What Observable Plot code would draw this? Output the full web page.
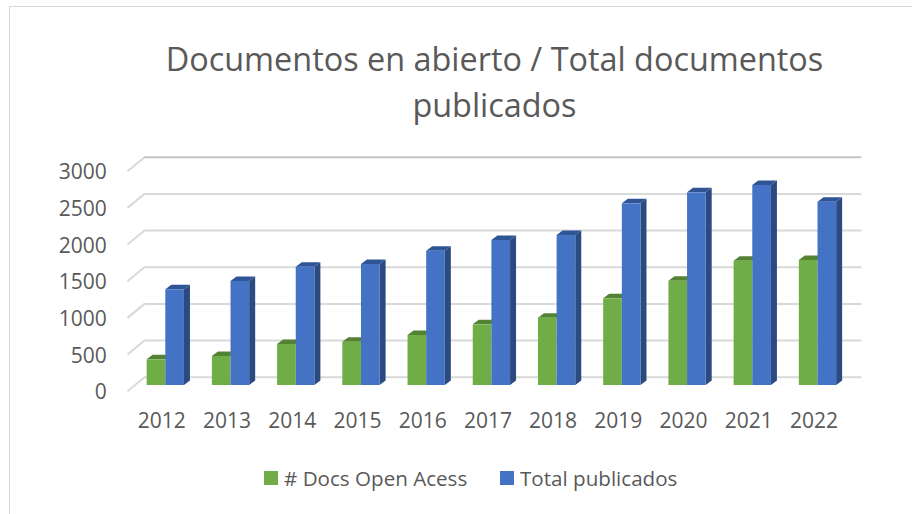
<!DOCTYPE html>
<html>
<head>
<meta charset="utf-8">
<script src="https://cdn.jsdelivr.net/npm/d3@7"></script>
<script src="https://cdn.jsdelivr.net/npm/@observablehq/plot@0.6"></script>
<style>
  html, body { margin: 0; padding: 0; background: #fff; }
  #page { position: relative; width: 912px; height: 514px; overflow: hidden; font-family: "Open Sans", sans-serif; color: #595959; }
  #frame { position: absolute; left: 9px; top: 6px; width: 903px; height: 520px; border: 1.5px solid #d9d9d9; border-right: none; box-sizing: border-box; }
  #title { position: absolute; left: 0; top: 35px; width: 989px; text-align: center; font-size: 32.4px; line-height: 46px; font-weight: 400; }
  #chart { position: absolute; left: 0; top: 140px; }
  #chart svg { display: block; }
  .lg { position: absolute; top: 467px; font-size: 20.6px; line-height: 22px; white-space: nowrap; }
  .sw { position: absolute; top: 471px; width: 14px; height: 14px; }
</style>
</head>
<body>
<div id="page">
  <div id="frame"></div>
  <div id="title">Documentos en abierto / Total documentos<br>publicados</div>
  <div id="chart"></div>
  <div class="sw" style="left:264px;background:#70ad47"></div>
  <div class="lg" style="left:284px"># Docs Open Acess</div>
  <div class="sw" style="left:500px;background:#4472c4"></div>
  <div class="lg" style="left:520px">Total publicados</div>
</div>
<script>
const years = [2012, 2013, 2014, 2015, 2016, 2017, 2018, 2019, 2020, 2021, 2022];
const openAccess = [350, 395, 559, 590, 682, 827, 918, 1182, 1422, 1695, 1705];
const totalDocs = [1305, 1418, 1613, 1650, 1831, 1977, 2045, 2477, 2627, 2727, 2500];
const yTicks = [0, 500, 1000, 1500, 2000, 2500, 3000];

const barHalf = 0.286;
const xStart = 2011.5, xEnd = 2022.5;
const greenRows = years.map((y, i) => ({x1: y - barHalf, x2: y, v: openAccess[i]}));
const blueRows = years.map((y, i) => ({x1: y, x2: y + barHalf, v: totalDocs[i]}));

// Draws a parallelogram derived from a bar's scaled rectangle (oblique 3D faces)
function face(rows, kind, fill) {
  const ddx = 6, ddy = 4.5;
  return Plot.rect(rows, {
    x1: "x1", x2: "x2", y1: 0, y2: "v", fill,
    render(index, scales, values) {
      const {x1: X1, x2: X2, y1: Y1, y2: Y2} = values;
      const g = d3.create("svg:g").attr("fill", fill);
      for (const i of index) {
        const l = X1[i], r = X2[i], b = Y1[i], t = Y2[i];
        const pts = kind === "top"
          ? [[l, t], [l + ddx, t - ddy], [r + ddx, t - ddy], [r, t]]
          : [[r, t], [r + ddx, t - ddy], [r + ddx, b - ddy], [r, b]];
        g.append("polygon").attr("points", pts.join(" "));
      }
      return g.node();
    }
  });
}

const backX = xStart + 11.3 / 65.2, frontX = xStart - 5.7 / 65.2;
const backDv = 113, frontDv = -78;

const chart = Plot.plot({
  width: 912, height: 300,
  marginLeft: 132.7, marginRight: 61.9, marginTop: 25, marginBottom: 55,
  style: {fontFamily: '"Open Sans", sans-serif', color: "#595959", background: "transparent", overflow: "visible"},
  x: {type: "linear", domain: [xStart, xEnd], axis: null},
  y: {domain: [0, 3000], axis: null},
  marks: [
    Plot.ruleY(yTicks, {y: d => d + backDv, x1: backX, x2: xEnd + 11.3 / 65.2, stroke: d => d === 3000 ? "#c4c4c4" : "#d9d9d9", strokeWidth: 2}),
    Plot.link(yTicks, {x1: backX, y1: d => d + backDv, x2: frontX, y2: d => d + frontDv, stroke: "#d9d9d9", strokeWidth: 2}),
    Plot.axisY(yTicks, {anchor: "left", tickSize: 0, tickPadding: 26.5, label: null, fontSize: 21, dy: 7, fill: "#595959", tickFormat: d => String(d)}),
    Plot.axisX(years, {anchor: "bottom", tickSize: 0, tickPadding: 25, label: null, fontSize: 21, dx: -4, dy: 3, tickFormat: d => String(d), fill: "#595959"}),
    face(greenRows, "top", "#548235"),
    Plot.rect(greenRows, {x1: "x1", x2: "x2", y1: 0, y2: "v", fill: "#70ad47"}),
    face(blueRows, "side", "#2a4a80"),
    face(blueRows, "top", "#2f5597"),
    Plot.rect(blueRows, {x1: "x1", x2: "x2", y1: 0, y2: "v", fill: "#4472c4"})
  ]
});
document.getElementById("chart").appendChild(chart);
</script>
</body>
</html>
